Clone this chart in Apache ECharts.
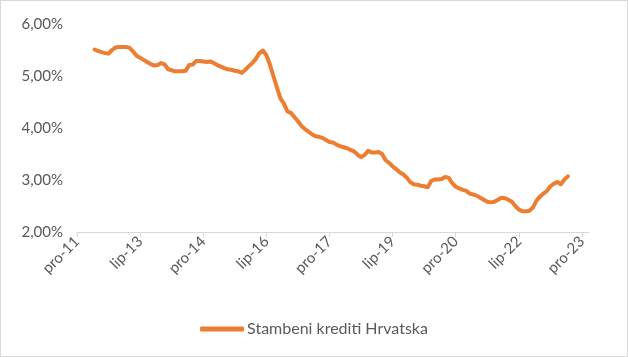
<!DOCTYPE html>
<html><head><meta charset="utf-8">
<script src="https://cdn.jsdelivr.net/npm/echarts@6/dist/echarts.min.js"></script>
<style>
html,body{margin:0;padding:0;background:#fff;}
#c{width:626px;height:355px;border:1px solid #d9d9d9;}
</style></head>
<body><div id="c"></div>
<script>
// Months (Croatian abbreviations) and year range of the category axis
const monthNames = ['sij','velj','ožu','tra','svi','lip','srp','kol','ruj','lis','stu','pro'];
const startYear = 2011, startMonth = 11; // pro-11
const nMonths = 147; // pro-11 .. velj-24
const firstDataIndex = 5; // svi-12
// Stambeni krediti Hrvatska, kamatna stopa (%), monthly from svi-12
const rates = [
 5.51,5.48,5.46,5.44,5.43,5.50,5.55,5.56,5.56,5.56,5.54,5.47,5.39,5.35,5.31,5.27,5.23,5.20,5.21,5.25,
 5.22,5.13,5.11,5.09,5.09,5.09,5.10,5.21,5.22,5.29,5.29,5.28,5.27,5.28,5.25,5.21,5.18,5.15,5.13,5.12,
 5.10,5.09,5.06,5.12,5.19,5.25,5.33,5.44,5.49,5.40,5.22,5.00,4.78,4.57,4.47,4.32,4.29,4.21,4.13,4.04,
 3.98,3.93,3.88,3.84,3.83,3.81,3.77,3.73,3.72,3.68,3.65,3.63,3.61,3.58,3.55,3.49,3.44,3.48,3.56,3.53,
 3.53,3.54,3.50,3.38,3.33,3.26,3.21,3.15,3.11,3.05,2.96,2.92,2.91,2.89,2.88,2.86,2.98,3.01,3.01,3.02,
 3.06,3.04,2.94,2.87,2.84,2.81,2.79,2.74,2.72,2.70,2.66,2.62,2.58,2.57,2.58,2.62,2.66,2.65,2.62,2.58,
 2.50,2.43,2.40,2.40,2.41,2.47,2.60,2.68,2.74,2.79,2.88,2.93,2.96,2.92,3.01,3.07
];
const seriesName = 'Stambeni krediti Hrvatska';

const categories = [];
for (let i = 0; i < nMonths; i++) {
  const m = (startMonth + i) % 12;
  const y = startYear + Math.floor((startMonth + i) / 12);
  categories.push(monthNames[m] + '-' + String(y % 100).padStart(2, '0'));
}
const data = categories.map((c, i) => {
  const k = i - firstDataIndex;
  return (k >= 0 && k < rates.length) ? rates[k] / 100 : '-';
});

const chart = echarts.init(document.getElementById('c'), null, {renderer: 'canvas'});
const font = 'Lato, Open Sans, Liberation Sans, sans-serif';
chart.setOption({
  animation: false,
  grid: {left: 76, right: 38, top: 23, bottom: 124},
  xAxis: {
    type: 'category', data: categories, boundaryGap: false,
    axisLine: {lineStyle: {color: '#d9d9d9', width: 1}},
    axisTick: {interval: 17, length: 5, lineStyle: {color: '#d9d9d9'}},
    axisLabel: {interval: 17, rotate: 45, color: '#595959', fontSize: 15, fontFamily: font, margin: 7}
  },
  yAxis: {
    type: 'value', min: 0.02, max: 0.06, interval: 0.01,
    axisLine: {show: false}, axisTick: {show: false}, splitLine: {show: false},
    axisLabel: {color: '#595959', fontSize: 15, fontFamily: font, margin: 14,
      formatter: v => (v * 100).toFixed(2).replace('.', ',') + '%'}
  },
  legend: {
    bottom: 14, left: 'center', icon: 'roundRect', itemWidth: 44, itemHeight: 5, itemGap: 10,
    textStyle: {color: '#595959', fontSize: 16, fontFamily: font, padding: [0, 0, 0, -2]},
    data: [seriesName]
  },
  series: [{
    name: seriesName, type: 'line', data: data, symbol: 'none', smooth: false,
    connectNulls: false,
    lineStyle: {color: '#ED7D31', width: 4, cap: 'round', join: 'round'},
    itemStyle: {color: '#ED7D31'}
  }]
});
</script></body></html>
